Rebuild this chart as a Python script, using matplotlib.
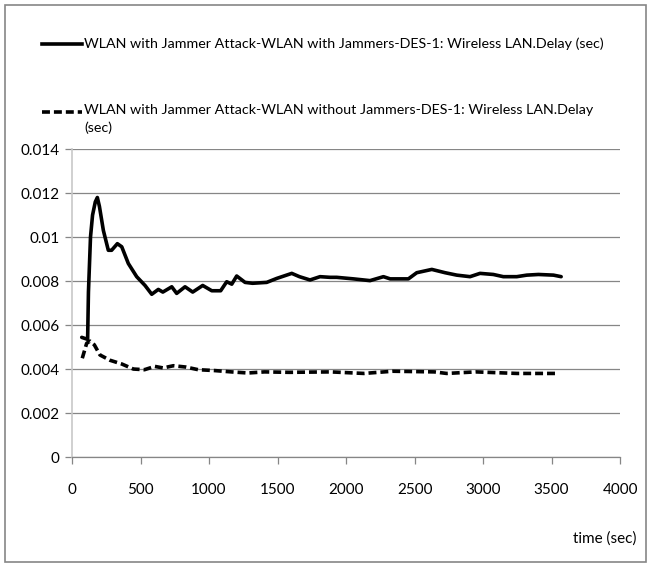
import matplotlib
matplotlib.use("Agg")
import matplotlib.pyplot as plt
from matplotlib.lines import Line2D
from matplotlib.patches import Rectangle

plt.rcParams["font.family"] = ["Lato", "DejaVu Sans"]

# === data ===
time_jam = [71, 114, 120, 135, 150, 170, 185, 200, 229, 265, 289, 331, 363, 411, 472,
            533, 582, 630, 663, 728, 764, 825, 881, 954, 1020, 1085, 1129, 1166, 1202,
            1263, 1318, 1421, 1494, 1604, 1660, 1737, 1810, 1883, 1932, 2054, 2175,
            2273, 2322, 2455, 2516, 2626, 2723, 2808, 2905, 2978, 3075, 3148, 3246,
            3319, 3404, 3514, 3570]
delay_jam = [0.00544, 0.00535, 0.0075, 0.0100, 0.0110, 0.0116, 0.0118, 0.0114, 0.0103,
             0.0094, 0.0094, 0.0097, 0.00956, 0.0088, 0.0082, 0.0078, 0.0074, 0.00762,
             0.0075, 0.00774, 0.00744, 0.00774, 0.0075, 0.0078, 0.00756, 0.00756,
             0.00797, 0.00786, 0.00823, 0.00794, 0.0079, 0.00794, 0.00812, 0.00835,
             0.0082, 0.00805, 0.0082, 0.00817, 0.00817, 0.0081, 0.00802, 0.0082, 0.0081,
             0.0081, 0.00838, 0.00853, 0.00838, 0.00827, 0.0082, 0.00835, 0.0083,
             0.0082, 0.0082, 0.00827, 0.0083, 0.00827, 0.0082]

time_nojam = [75, 107, 131, 163, 204, 277, 363, 448, 529, 604, 665, 740, 831, 921, 1042,
              1163, 1284, 1405, 1586, 1888, 2130, 2341, 2644, 2734, 2946, 3248, 3550]
delay_nojam = [0.00449, 0.00517, 0.00527, 0.0051, 0.00464, 0.0044, 0.00423, 0.0040,
               0.00397, 0.00412, 0.00405, 0.00415, 0.00409, 0.00397, 0.00393, 0.00387,
               0.00382, 0.00387, 0.00385, 0.00387, 0.0038, 0.0039, 0.00387, 0.0038,
               0.00387, 0.0038, 0.0038]

label_jam = "WLAN with Jammer Attack-WLAN with Jammers-DES-1: Wireless LAN.Delay (sec)"
label_nojam = "WLAN with Jammer Attack-WLAN without Jammers-DES-1: Wireless LAN.Delay\n(sec)"

x_ticks = [0, 500, 1000, 1500, 2000, 2500, 3000, 3500, 4000]
y_ticks = [0, 0.002, 0.004, 0.006, 0.008, 0.01, 0.012, 0.014]
y_tick_labels = ["0", "0.002", "0.004", "0.006", "0.008", "0.01", "0.012", "0.014"]

grid_col = "#868686"
fs = 11
lw = 2.6
dash = (0, (2.2, 1.1))

fig = plt.figure(figsize=(6.51, 5.67), dpi=100)
ax = fig.add_axes([0.1106, 0.194, 0.9525 - 0.1106, 0.737 - 0.194])

ax.plot(time_jam, delay_jam, color="black", lw=lw, solid_joinstyle="round",
        solid_capstyle="round")
ax.plot(time_nojam, delay_nojam, color="black", lw=lw, linestyle=dash,
        dash_capstyle="butt")

ax.set_xlim(0, 4000)
ax.set_ylim(0, 0.014)
ax.set_xticks(x_ticks)
ax.set_xticklabels([str(t) for t in x_ticks])
ax.set_yticks(y_ticks)
ax.set_yticklabels(y_tick_labels)
ax.yaxis.grid(True, color=grid_col, lw=0.9)
ax.set_axisbelow(True)

for s in ["top", "right"]:
    ax.spines[s].set_visible(False)
ax.spines["left"].set_color("#c8c8c8")
ax.spines["left"].set_linewidth(1.2)
ax.spines["bottom"].set_color(grid_col)
ax.spines["bottom"].set_linewidth(0.9)
ax.tick_params(axis="y", length=5, width=0.9, color=grid_col, labelsize=fs, pad=4)
ax.tick_params(axis="x", length=5, width=0.9, color=grid_col, labelsize=fs, pad=14)

fig.text(0.978, 0.051, "time (sec)", ha="right", va="center", fontsize=fs)

# legend drawn at the top like the spreadsheet chart
fig.add_artist(Line2D([0.065, 0.126], [0.922, 0.922], color="black", lw=lw,
                      transform=fig.transFigure))
fig.text(0.129, 0.922, label_jam, ha="left", va="center", fontsize=10.3)
fig.add_artist(Line2D([0.065, 0.126], [0.802, 0.802], color="black", lw=lw,
                      linestyle=dash, transform=fig.transFigure))
fig.text(0.129, 0.817, label_nojam, ha="left", va="top", fontsize=10.3,
         linespacing=1.55)

fig.add_artist(Rectangle((0.007, 0.008), 0.986, 0.984, transform=fig.transFigure,
                         fill=False, edgecolor=grid_col, lw=1.2))

fig.savefig("out.png", dpi=100)
